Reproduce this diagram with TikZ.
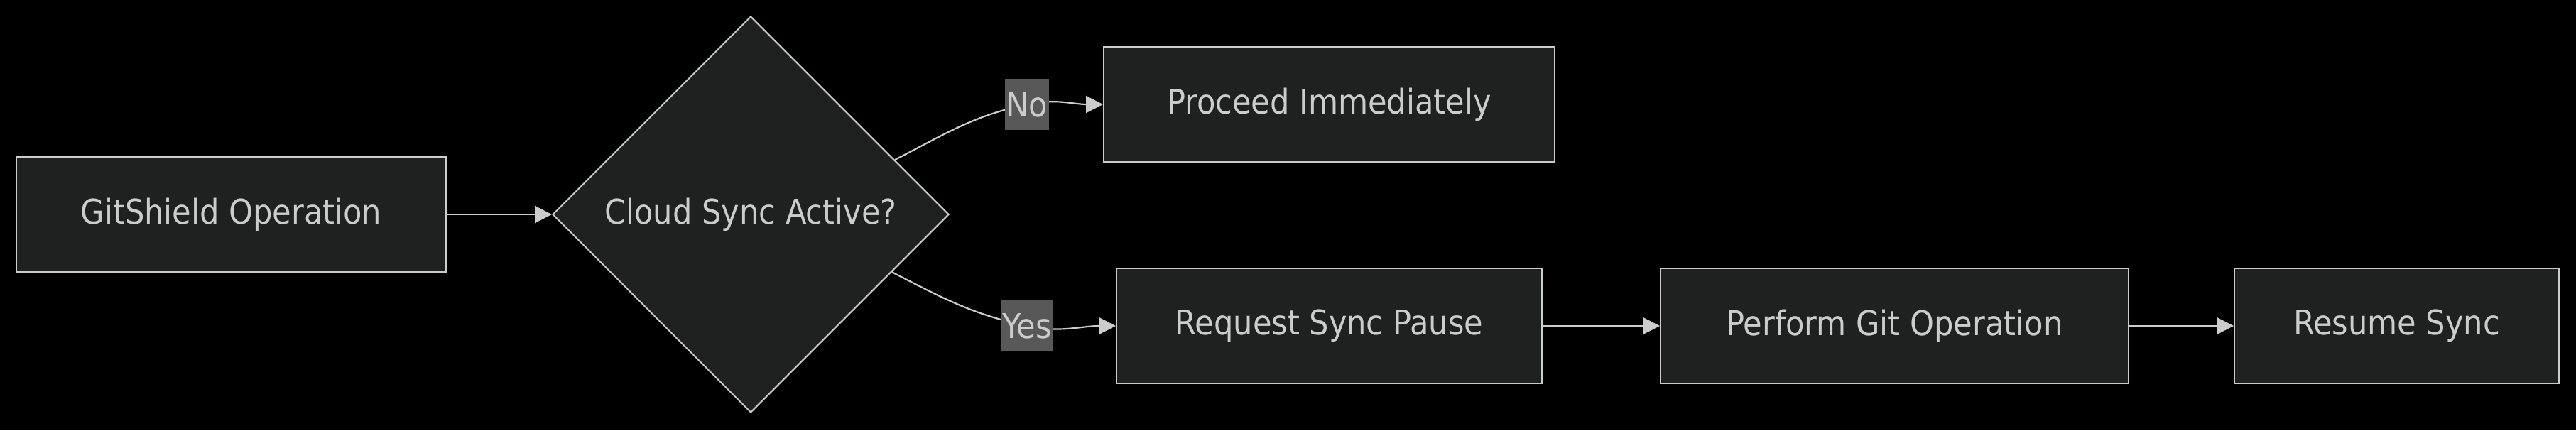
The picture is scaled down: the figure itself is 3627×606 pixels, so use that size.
\documentclass[tikz,border=0pt]{standalone}
\usepackage{fontspec}
\setmainfont{DejaVu Sans Condensed}
\usetikzlibrary{shapes.geometric,arrows.meta,calc}
\definecolor{canvas}{RGB}{0,0,0}
\definecolor{boxfill}{HTML}{1F2020}
\definecolor{stroke}{HTML}{CCCCCC}
\definecolor{lblfill}{HTML}{585858}

\begin{document}
\begin{tikzpicture}[x=0.5pt, y=-0.5pt,
  box/.style={draw=stroke, fill=boxfill, line width=1pt, minimum height=81pt,
    inner sep=0pt, text=stroke, font=\fontsize{24}{29}\selectfont},
  decision/.style={box, diamond, minimum width=279pt, minimum height=279pt},
  flow/.style={draw=stroke, line width=1.1pt, -{Triangle[length=12pt,width=12pt]}},
  edgelbl/.style={fill=lblfill, text=stroke, inner xsep=1pt, inner ysep=0pt,
    minimum height=36pt, font=\fontsize{24}{29}\selectfont}]
  % Canvas
  \fill[canvas] (0,0) rectangle (3627,606);
  \useasboundingbox (0,0) rectangle (3627,606);
  % Nodes
  \node[box, minimum width=302.5pt] (gitop) at (325.5,302) {GitShield Operation};
  \node[decision] (active) at (1057,302) {Cloud Sync Active?};
  \node[box, minimum width=317.5pt] (proceed) at (1871.5,147) {Proceed Immediately};
  \node[box, minimum width=299.5pt] (pause) at (1871.5,459) {Request Sync Pause};
  \node[box, minimum width=329.5pt] (perform) at (2667.5,459) {Perform Git Operation};
  \node[box, minimum width=228.5pt] (resume) at (3374.5,459) {Resume Sync};
  % Label points
  \coordinate (noPt) at (1446,147);
  \coordinate (yesPt) at (1446,459);
  % Connectors
  \draw[flow] (gitop.east) -- (active.west);
  \draw[flow] ($(active.east)!0.275!(active.north)$) to[out=27,in=192] (noPt)
    to[out=12,in=180] (proceed.west);
  \draw[flow] ($(active.east)!0.29!(active.south)$) to[out=-27,in=168] (yesPt)
    to[out=-12,in=180] (pause.west);
  \draw[flow] (pause.east) -- (perform.west);
  \draw[flow] (perform.east) -- (resume.west);
  % Edge labels
  \node[edgelbl] (no) at (noPt) {No};
  \node[edgelbl] (yes) at (yesPt) {Yes};
\end{tikzpicture}
\end{document}
